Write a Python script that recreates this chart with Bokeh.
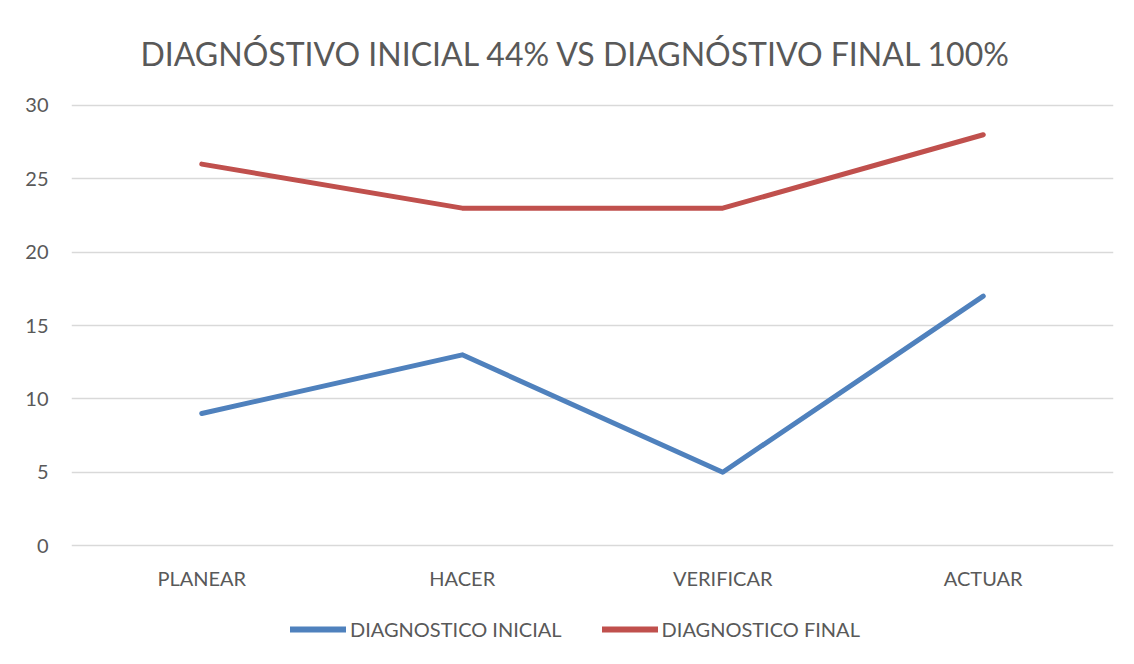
from bokeh.plotting import figure
from bokeh.layouts import column
from bokeh.models import FactorRange, Range1d, Legend, LegendItem, Title, SingleIntervalTicker
from bokeh.embed import file_html
from bokeh.resources import INLINE

categories = ["PLANEAR", "HACER", "VERIFICAR", "ACTUAR"]
inicial = [9, 13, 5, 17]
final = [26, 23, 23, 28]
series_names = ["DIAGNOSTICO INICIAL", "DIAGNOSTICO FINAL"]
series_colors = ["#4F81BD", "#C0504D"]
title_text = "DIAGNÓSTIVO INICIAL 44%  VS DIAGNÓSTIVO FINAL 100%"

FONT = "Lato"
TXT = "#595959"
LW = 5

p = figure(frame_width=1042, frame_height=446, output_backend="svg", toolbar_location=None,
           x_range=FactorRange(factors=categories, range_padding=0),
           y_range=Range1d(-0.2, 30.2),
           min_border_left=71, min_border_right=13, min_border_top=102, min_border_bottom=60)

p.title = Title(text=title_text, align="left", offset=69, text_font_size="32px", text_color=TXT,
                text_font=FONT, text_font_style="normal", standoff=60)

p.line(categories, inicial, line_color=series_colors[0], line_width=LW, line_cap="round", line_join="round")
p.line(categories, final, line_color=series_colors[1], line_width=LW, line_cap="round", line_join="round")

p.outline_line_color = None
p.xgrid.grid_line_color = None
p.ygrid.grid_line_color = "#D9D9D9"
p.ygrid.grid_line_width = 1.5
p.yaxis.ticker = SingleIntervalTicker(interval=5)

for ax in (p.xaxis[0], p.yaxis[0]):
    ax.axis_line_color = None
    ax.major_tick_line_color = None
    ax.minor_tick_line_color = None
    ax.major_label_text_font = FONT
    ax.major_label_text_font_size = "20px"
    ax.major_label_text_color = TXT
p.yaxis.major_label_standoff = 17
p.xaxis.major_label_standoff = 11

# legend strip below the chart (series re-plotted out of view so the legend keys draw)
lf = figure(width=1126, height=50, output_backend="svg", toolbar_location=None,
            x_range=FactorRange(factors=categories), y_range=Range1d(100, 101),
            x_axis_type=None, y_axis_type=None,
            min_border_left=0, min_border_right=0, min_border_top=0, min_border_bottom=0)
lf.outline_line_color = None
lf.xgrid.grid_line_color = None
lf.ygrid.grid_line_color = None
items = []
for name, col, vals in zip(series_names, series_colors, [inicial, final]):
    rr = lf.line(categories, vals, line_color=col, line_width=LW + 1, line_cap="round")
    items.append(LegendItem(label=name, renderers=[rr]))

legend = Legend(items=items, orientation="horizontal", location=(219, 17),
                label_text_font=FONT, label_text_font_size="20px", label_text_color=TXT,
                glyph_width=56, glyph_height=20, label_standoff=4, spacing=40,
                border_line_color=None, background_fill_alpha=0, padding=0, margin=0)
lf.add_layout(legend, "center")

layout = column(p, lf, spacing=0)
open("out.html", "w").write(file_html(layout, INLINE))
